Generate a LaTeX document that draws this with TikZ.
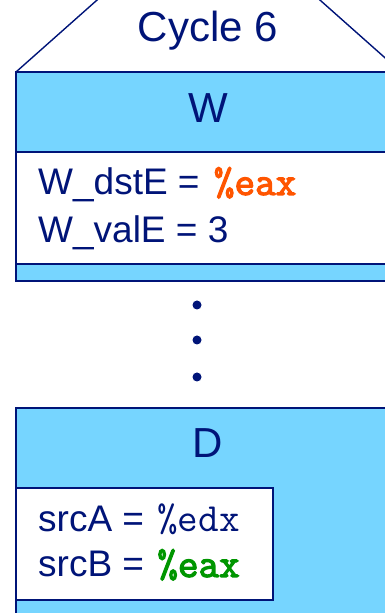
\documentclass[tikz,border=0pt]{standalone}
\usepackage{fontspec}
\setmainfont{Liberation Sans}
\newfontfamily\cour{Latin Modern Mono}
\newfontfamily\courb[FakeBold=3]{Latin Modern Mono}
\definecolor{navy}{RGB}{0,20,120}
\definecolor{lblue}{RGB}{118,213,255}
\definecolor{orng}{RGB}{255,85,0}
\definecolor{grn}{RGB}{0,150,0}
\newcommand{\mono}{\fontsize{40}{42}\selectfont}
\begin{document}
\begin{tikzpicture}[x=1pt,y=1pt,
  big/.style={text=navy,font=\fontsize{42}{48}\selectfont,inner sep=0pt,anchor=base},
  txt/.style={text=navy,font=\fontsize{37}{42}\selectfont,inner sep=0pt,anchor=base west},
  frame/.style={draw=navy,line width=1.4pt}]
\useasboundingbox (0,0) rectangle (385,613);
% cycle header
\draw[navy,line width=1.4pt] (16,541) -- (105,620) (312,620) -- (401,541);
\node[big] (cyc) at (208,571) {Cycle 6};
% W stage
\fill[lblue] (16,332) rectangle (401,541);
\draw[frame] (16,332) rectangle (401,541);
\node[big] (W) at (208,490) {W};
\fill[white] (16,349) rectangle (401,461);
\draw[frame] (16,349) rectangle (401,461);
\node[txt] (wd) at (38,418) {W\_dstE =\hspace{4pt} {\courb\mono\color{orng}\%eax}};
\node[txt] (wv) at (38,370) {W\_valE = 3};
% dots
\foreach \y/\n in {308/d1,273/d2,236/d3}
  \fill[navy] (197,\y) circle (4.5pt) coordinate (\n);
% D stage
\fill[lblue] (16,-10) rectangle (401,205);
\draw[frame] (16,-10) rectangle (401,205);
\node[big] (D) at (208,155) {D};
\fill[white] (16,13) rectangle (273,125);
\draw[frame] (16,13) rectangle (273,125);
\node[txt] (sa) at (38,81) {srcA =\hspace{3pt} {\cour\mono\color{navy}\%edx}};
\node[txt] (sb) at (38,36) {srcB =\hspace{3pt} {\courb\mono\color{grn}\%eax}};
\end{tikzpicture}
\end{document}
